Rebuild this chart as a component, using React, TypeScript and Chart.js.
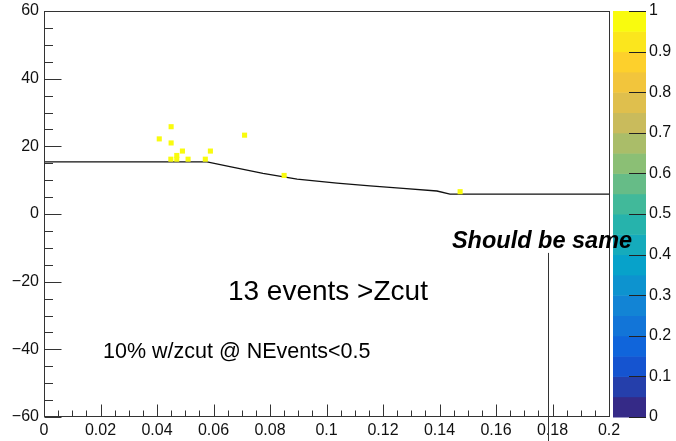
import React, { useEffect, useRef } from "react";
import { Chart, registerables } from "chart.js";

Chart.register(...registerables);

// ---- data ----
const EVENT_X = [0.045, 0.0408, 0.045, 0.071, 0.049, 0.0589, 0.047, 0.0449, 0.047, 0.051, 0.0571, 0.085, 0.1473];
const EVENT_Y = [25.8, 22.2, 21.0, 23.3, 18.6, 18.6, 17.3, 16.2, 16.2, 16.2, 16.2, 11.4, 6.6];

const CUT_X = [0, 0.0577, 0.0658, 0.0775, 0.0896, 0.1037, 0.1154, 0.1271, 0.1391, 0.1437, 0.2];
const CUT_Y = [15.4, 15.4, 14.0, 12.0, 10.3, 9.1, 8.3, 7.6, 6.8, 5.9, 5.9];

const X_TICKS = [0, 0.02, 0.04, 0.06, 0.08, 0.1, 0.12, 0.14, 0.16, 0.18, 0.2];
const Y_TICKS = [-60, -40, -20, 0, 20, 40, 60];
const Z_TICKS = [0, 0.1, 0.2, 0.3, 0.4, 0.5, 0.6, 0.7, 0.8, 0.9, 1];

const TEXT_LABELS = ["13 events >Zcut", "10% w/zcut @ NEvents<0.5", "Should be same"];
const TEXT_X = [0.0651, 0.0209, 0.1444];
const TEXT_Y = [-23.1, -40.8, -8.0];

const ARROW_X = 0.1785;
const ARROW_Y = [-11.5, -68];

// ---- style ----
const FONT = '"Liberation Sans", Arial, Helvetica, sans-serif';
const N_BANDS = 20;
const BIRD_STOPS = [0, 0.125, 0.25, 0.375, 0.5, 0.625, 0.75, 0.875, 1];
const BIRD_R = [0.2082, 0.0592, 0.078, 0.0232, 0.1802, 0.5301, 0.8186, 0.9956, 0.9764];
const BIRD_G = [0.1664, 0.3599, 0.5041, 0.6419, 0.7178, 0.7492, 0.7328, 0.7862, 0.9832];
const BIRD_B = [0.5293, 0.8684, 0.8385, 0.7914, 0.6425, 0.4662, 0.3499, 0.1968, 0.0539];

function bird(t: number): string {
  let k = 0;
  while (k < BIRD_STOPS.length - 2 && t > BIRD_STOPS[k + 1]) k++;
  const f = (t - BIRD_STOPS[k]) / (BIRD_STOPS[k + 1] - BIRD_STOPS[k]);
  const c = (a: number[]) => Math.round(255 * (a[k] + (a[k + 1] - a[k]) * f));
  return `rgb(${c(BIRD_R)},${c(BIRD_G)},${c(BIRD_B)})`;
}

function fixSize(prop: "width" | "height", size: number) {
  return (s: any) => {
    s[prop] = size;
    s.paddingTop = 0;
    s.paddingBottom = 0;
    s.paddingLeft = 0;
    s.paddingRight = 0;
  };
}

const rootPlugin = {
  id: "rootStyle",
  afterDatasetsDraw(chart: any) {
    const { ctx, chartArea: a, scales } = chart;
    const xs = scales.x;
    const ys = scales.y;
    const zs = scales.z;
    ctx.save();
    // frame
    ctx.strokeStyle = "#333";
    ctx.lineWidth = 1;
    const L = Math.round(a.left) + 0.5;
    const T = Math.round(a.top) + 0.5;
    const R = Math.round(a.right) + 0.5;
    const B = Math.round(a.bottom) - 0.5;
    ctx.strokeRect(L, T, R - L, B - T);
    // x ticks (inside, upward)
    ctx.beginPath();
    for (let i = 0; i <= 40; i++) {
      const v = i * 0.005;
      const px = Math.round(xs.getPixelForValue(v)) + 0.5;
      const len = i % 4 === 0 ? 12 : 6;
      ctx.moveTo(px, B);
      ctx.lineTo(px, B - len);
    }
    // y ticks (inside, rightward)
    for (let i = 0; i <= 24; i++) {
      const v = -60 + i * 5;
      const py = Math.round(ys.getPixelForValue(v)) + 0.5;
      const len = i % 4 === 0 ? 17 : 8.5;
      ctx.moveTo(L, py);
      ctx.lineTo(L + len, py);
    }
    ctx.stroke();

    // colour bar
    const cbL = a.right + 4;
    const cbR = a.right + 37;
    for (let i = 0; i < N_BANDS; i++) {
      const y0 = zs.getPixelForValue(i / N_BANDS);
      const y1 = zs.getPixelForValue((i + 1) / N_BANDS);
      ctx.fillStyle = bird(i / (N_BANDS - 1));
      ctx.fillRect(cbL, y1, cbR - cbL, y0 - y1 + 0.5);
    }
    ctx.strokeStyle = "#222";
    ctx.beginPath();
    for (const v of Z_TICKS) {
      const py = Math.round(zs.getPixelForValue(v)) + 0.5;
      ctx.moveTo(cbR - 17, py);
      ctx.lineTo(cbR, py);
    }
    ctx.stroke();

    // annotations
    ctx.fillStyle = "#000";
    ctx.textBaseline = "middle";
    ctx.textAlign = "left";
    const fonts = [`28px ${FONT}`, `21.5px ${FONT}`, `italic bold 23.5px ${FONT}`];
    TEXT_LABELS.forEach((t, i) => {
      ctx.font = fonts[i];
      ctx.fillText(t, xs.getPixelForValue(TEXT_X[i]), ys.getPixelForValue(TEXT_Y[i]));
    });
    ctx.strokeStyle = "#333";
    ctx.lineWidth = 1;
    ctx.beginPath();
    const ax = Math.round(xs.getPixelForValue(ARROW_X)) + 0.5;
    ctx.moveTo(ax, ys.getPixelForValue(ARROW_Y[0]));
    ctx.lineTo(ax, ys.getPixelForValue(ARROW_Y[1]));
    ctx.stroke();
    ctx.restore();
  },
};

export default function App() {
  const ref = useRef<HTMLCanvasElement | null>(null);
  useEffect(() => {
    const canvas = ref.current;
    if (!canvas) return;
    const yellow = bird(1);
    const chart = new Chart(canvas, {
      type: "scatter",
      data: {
        datasets: [
          {
            label: "events",
            data: EVENT_X.map((x, i) => ({ x, y: EVENT_Y[i] })),
            pointStyle: "rect",
            pointRadius: 3.6,
            backgroundColor: yellow,
            borderWidth: 0,
            order: 0,
          },
          {
            label: "zcut",
            data: CUT_X.map((x, i) => ({ x, y: CUT_Y[i] })),
            showLine: true,
            borderColor: "#111",
            borderWidth: 1.3,
            pointRadius: 0,
            fill: false,
            tension: 0,
            order: 1,
          },
        ],
      } as any,
      options: {
        responsive: false,
        animation: false,
        events: [],
        layout: { autoPadding: false, padding: { top: 11, left: 0, right: 0, bottom: 0 } },
        plugins: { legend: { display: false }, tooltip: { enabled: false } },
        scales: {
          x: {
            type: "linear",
            position: "bottom",
            min: 0,
            max: 0.2,
            grid: { display: false, drawTicks: false },
            border: { display: false },
            afterBuildTicks: (s: any) => {
              s.ticks = X_TICKS.map((v) => ({ value: v }));
            },
            afterFit: fixSize("height", 24),
            ticks: {
              autoSkip: false,
              maxRotation: 0,
              padding: 4,
              color: "#111",
              font: { family: FONT, size: 16 },
              callback: (v: any) => String(parseFloat(Number(v).toFixed(3))),
            },
          },
          y: {
            type: "linear",
            position: "left",
            min: -60,
            max: 60,
            grid: { display: false, drawTicks: false },
            border: { display: false },
            afterBuildTicks: (s: any) => {
              s.ticks = Y_TICKS.map((v) => ({ value: v }));
            },
            afterFit: fixSize("width", 44),
            ticks: {
              autoSkip: false,
              padding: 5,
              color: "#111",
              font: { family: FONT, size: 16 },
              callback: (v: any) => (Number(v) < 0 ? "\u2212" + Math.abs(Number(v)) : String(v)),
            },
          },
          z: {
            type: "linear",
            position: "right",
            min: 0,
            max: 1,
            grid: { display: false, drawTicks: false },
            border: { display: false },
            afterBuildTicks: (s: any) => {
              s.ticks = Z_TICKS.map((v) => ({ value: v }));
            },
            afterFit: fixSize("width", 67),
            ticks: {
              autoSkip: false,
              padding: 40,
              color: "#111",
              font: { family: FONT, size: 16 },
              callback: (v: any) => String(parseFloat(Number(v).toFixed(2))),
            },
          },
        },
      } as any,
      plugins: [rootPlugin],
    });
    return () => chart.destroy();
  }, []);
  return (
    <div style={{ position: "fixed", left: 0, top: 0, width: 676, height: 441, background: "#fff" }}>
      <canvas ref={ref} width={676} height={441} style={{ display: "block" }} />
    </div>
  );
}
